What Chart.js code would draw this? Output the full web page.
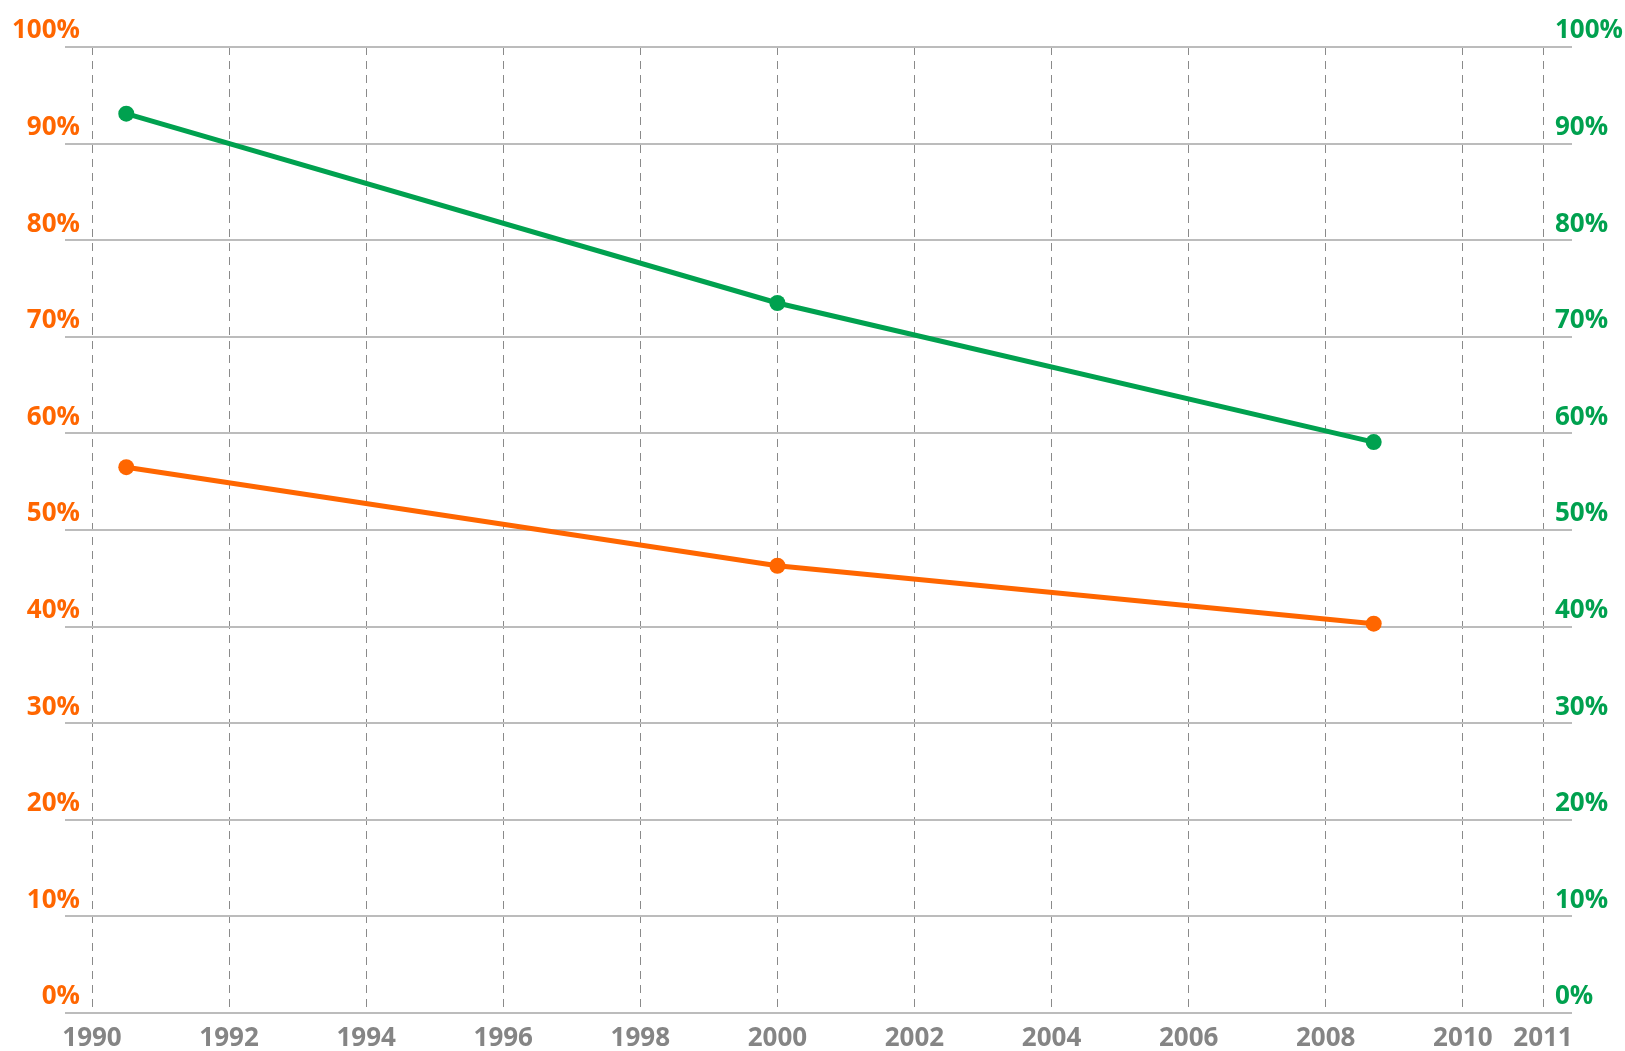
<!DOCTYPE html>
<html>
<head>
<meta charset="utf-8">
<script src="https://cdn.jsdelivr.net/npm/chart.js@4/dist/chart.umd.min.js"></script>
<style>
  html, body { margin: 0; padding: 0; background: #fff; }
  #wrap { width: 1625px; height: 1051px; position: relative; }
</style>
</head>
<body>
<div id="wrap"><canvas id="chart"></canvas></div>
<script>
// Data
const years = [1990.5, 2000, 2008.7];
const greenSeries = [93.1, 73.5, 59.1];
const orangeSeries = [56.5, 46.3, 40.3];

// X axis ticks (last one sits at the axis end)
const xTickValues = [1990, 1992, 1994, 1996, 1998, 2000, 2002, 2004, 2006, 2008, 2010, 2011.17];
const xTickLabels = ['1990', '1992', '1994', '1996', '1998', '2000', '2002', '2004', '2006', '2008', '2010', '2011'];
const yTickValues = [0, 10, 20, 30, 40, 50, 60, 70, 80, 90, 100];

const ORANGE = '#ff6600';
const GREEN = '#00a14f';
const GRAY = '#858585';
const tickFont = { family: "'Open Sans', sans-serif", size: 26, weight: 'bold' };

function toPoints(xs, ys) {
  return xs.map((x, i) => ({ x: x, y: ys[i] }));
}

const ctx = document.getElementById('chart').getContext('2d');
new Chart(ctx, {
  type: 'line',
  data: {
    datasets: [{
      label: 'Green',
      data: toPoints(years, greenSeries),
      borderColor: GREEN,
      backgroundColor: GREEN,
      borderWidth: 5,
      pointRadius: 8,
      pointBorderWidth: 0,
      tension: 0,
      yAxisID: 'yRight'
    }, {
      label: 'Orange',
      data: toPoints(years, orangeSeries),
      borderColor: ORANGE,
      backgroundColor: ORANGE,
      borderWidth: 5,
      pointRadius: 8,
      pointBorderWidth: 0,
      tension: 0,
      yAxisID: 'yLeft'
    }]
  },
  options: {
    responsive: true,
    maintainAspectRatio: false,
    animation: false,
    layout: { padding: { top: 47, left: 0, right: 0, bottom: 0 } },
    plugins: {
      legend: { display: false },
      tooltip: { enabled: false }
    },
    scales: {
      x: {
        type: 'linear',
        min: 1990,
        max: 2011.17,
        afterBuildTicks: scale => {
          scale.ticks = xTickValues.map(v => ({ value: v }));
        },
        afterFit: scale => { scale.height = 38; },
        ticks: {
          autoSkip: false,
          maxRotation: 0,
          padding: 10,
          color: GRAY,
          font: tickFont,
          callback: (value, index) => xTickLabels[index]
        },
        grid: {
          color: '#8a8a8a',
          lineWidth: 1,
          drawTicks: false
        },
        border: { display: false, dash: [8, 6] }
      },
      yLeft: {
        type: 'linear',
        position: 'left',
        min: 0,
        max: 100,
        afterBuildTicks: scale => {
          scale.ticks = yTickValues.map(v => ({ value: v }));
        },
        afterFit: scale => { scale.width = 92; },
        ticks: {
          color: ORANGE,
          font: tickFont,
          padding: -15,
          labelOffset: -16,
          callback: value => value + '%'
        },
        grid: {
          color: '#bcbcbc',
          lineWidth: 2,
          drawTicks: true,
          tickLength: 27
        },
        border: { display: false }
      },
      yRight: {
        type: 'linear',
        position: 'right',
        min: 0,
        max: 100,
        afterBuildTicks: scale => {
          scale.ticks = yTickValues.map(v => ({ value: v }));
        },
        afterFit: scale => { scale.width = 82; },
        ticks: {
          color: GREEN,
          font: tickFont,
          padding: -17,
          labelOffset: -16,
          callback: value => value + '%'
        },
        grid: {
          color: '#bcbcbc',
          lineWidth: 2,
          drawOnChartArea: false,
          drawTicks: true,
          tickLength: 29
        },
        border: { display: false }
      }
    }
  }
});
</script>
</body>
</html>
